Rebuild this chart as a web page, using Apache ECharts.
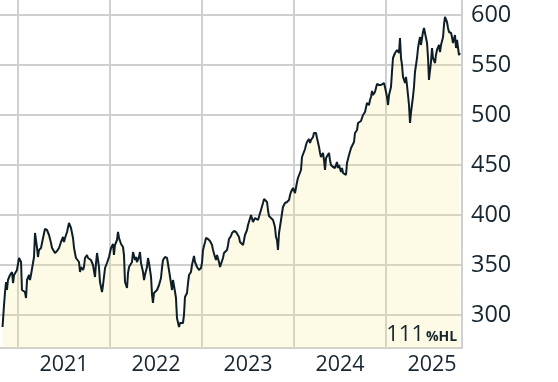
<!DOCTYPE html>
<html><head><meta charset="utf-8">
<script src="https://cdn.jsdelivr.net/npm/echarts@6/dist/echarts.min.js"></script>
<style>html,body{margin:0;padding:0;background:#fff}#c{width:558px;height:382px}</style>
</head><body><div id="c"></div>
<script>
// decimal-year dates of each reading
const dates = [
 2020.832,2020.848,2020.859,2020.870,2020.880,2020.891,2020.913,2020.935,2020.946,2020.957,2020.978,2020.989,
 2021.011,2021.033,2021.043,2021.054,2021.076,2021.087,2021.098,2021.120,2021.130,2021.141,
 2021.163,2021.174,2021.185,2021.207,2021.217,2021.228,2021.250,2021.272,2021.293,2021.315,
 2021.337,2021.359,2021.370,2021.380,2021.402,2021.424,2021.446,2021.467,2021.489,2021.500,
 2021.511,2021.533,2021.554,2021.565,2021.576,2021.598,2021.609,2021.630,2021.641,2021.663,
 2021.674,2021.685,2021.707,2021.717,2021.728,2021.750,2021.761,2021.772,2021.793,2021.815,
 2021.837,2021.848,2021.859,2021.880,2021.891,2021.913,2021.924,2021.946,2021.967,2021.989,
 2022.011,2022.033,2022.043,2022.054,2022.076,2022.087,2022.098,2022.120,2022.141,2022.152,
 2022.163,2022.185,2022.196,2022.207,2022.228,2022.239,2022.250,2022.272,2022.283,2022.293,
 2022.315,2022.326,2022.337,2022.359,2022.370,2022.380,2022.402,2022.413,2022.424,2022.446,
 2022.457,2022.467,2022.478,2022.489,2022.511,2022.522,2022.533,2022.554,2022.565,2022.576,
 2022.598,2022.620,2022.630,2022.641,2022.663,2022.674,2022.685,2022.707,2022.717,2022.728,
 2022.750,2022.761,2022.772,2022.793,2022.804,2022.815,2022.837,2022.848,2022.859,2022.880,
 2022.891,2022.913,2022.924,2022.946,2022.967,2022.989,
 2023.000,2023.011,2023.033,2023.043,2023.065,2023.087,2023.109,2023.120,2023.141,2023.152,
 2023.163,2023.185,2023.196,2023.207,2023.228,2023.239,2023.250,2023.272,2023.283,2023.293,
 2023.315,2023.326,2023.348,2023.370,2023.380,2023.402,2023.413,2023.424,2023.446,2023.457,
 2023.467,2023.489,2023.500,2023.511,2023.533,2023.543,2023.554,2023.576,2023.587,2023.609,
 2023.630,2023.641,2023.663,2023.674,2023.685,2023.707,2023.717,2023.728,2023.750,2023.761,
 2023.772,2023.793,2023.804,2023.815,2023.826,2023.837,2023.859,2023.870,2023.880,2023.902,
 2023.924,2023.946,2023.957,2023.967,2023.989,
 2024.000,2024.011,2024.033,2024.043,2024.054,2024.076,2024.087,2024.098,2024.120,2024.130,
 2024.141,2024.163,2024.174,2024.185,2024.207,2024.217,2024.239,2024.250,2024.272,2024.283,
 2024.293,2024.315,2024.326,2024.337,2024.348,2024.359,2024.380,2024.391,2024.402,2024.424,
 2024.435,2024.446,2024.467,2024.478,2024.489,2024.511,2024.522,2024.533,2024.554,2024.565,
 2024.576,2024.598,2024.609,2024.620,2024.641,2024.652,2024.663,2024.685,2024.696,2024.707,
 2024.728,2024.739,2024.750,2024.772,2024.783,2024.793,2024.815,2024.826,2024.837,2024.848,
 2024.859,2024.880,2024.891,2024.902,2024.924,2024.935,2024.946,2024.967,2024.978,2024.989,
 2025.011,2025.022,2025.033,2025.054,2025.065,2025.076,2025.098,2025.109,2025.120,2025.141,
 2025.152,2025.163,2025.174,2025.185,2025.207,2025.217,2025.228,2025.250,2025.261,2025.272,
 2025.293,2025.304,2025.315,2025.337,2025.348,2025.359,2025.370,2025.380,2025.402,2025.413,
 2025.424,2025.446,2025.457,2025.467,2025.489,2025.500,2025.511,2025.533,2025.543,2025.554,
 2025.576,2025.587,2025.598,2025.620,2025.630,2025.641,2025.663,2025.674,2025.685,2025.707,
 2025.717,2025.728,2025.750,2025.761,2025.772,2025.793,2025.804
];
const prices = [
 288,310,323,333,325,335,340,343,332,340,338,345,
 357,353,325,327,323,317,335,340,335,340,
 352,358,382,367,358,365,367,377,386,385,
 380,372,367,367,362,364,367,373,378,373,
 377,383,392,393,387,377,367,357,355,353,
 343,348,345,348,357,360,357,358,355,350,
 338,352,362,348,333,323,330,347,352,358,
 367,371,360,370,375,383,377,371,368,360,
 333,327,342,348,350,353,363,355,358,353,
 358,363,352,343,335,340,348,357,352,338,
 320,312,322,320,325,327,330,337,347,355,
 358,357,355,345,332,325,335,323,317,297,
 288,292,293,292,300,318,322,332,340,343,
 350,359,353,348,345,347,
 352,365,373,377,376,374,370,365,358,355,
 360,353,348,350,357,362,363,365,370,376,
 379,382,384,383,385,378,373,372,370,375,
 380,385,390,390,400,402,393,397,395,395,
 397,405,412,416,415,413,405,399,397,398,
 395,388,378,375,365,382,395,402,408,412,
 413,415,420,423,427,
 425,422,433,437,438,445,458,460,466,470,
 473,476,472,475,478,482,482,477,468,462,
 458,462,455,445,457,458,462,455,450,448,
 449,447,453,447,450,443,447,442,443,440,
 452,460,458,467,468,473,482,485,492,493,
 494,496,500,503,505,512,510,515,518,524,
 520,523,525,531,530,528,530,528,532,528,
 518,510,520,528,543,557,562,563,565,562,
 577,557,550,538,532,538,530,510,492,503,
 518,528,543,557,567,573,578,570,583,587,
 588,572,557,535,553,567,557,552,560,565,
 570,563,570,578,590,598,593,587,583,582,
 578,572,580,567,575,560,562
];
const xRange = [2020.8043, 2025.826];
const yRange = [267, 615];
const noteValue = '111';
const noteUnit = '%HL';

const FONT = '"Open Sans", "Noto Sans", sans-serif';
const TXT = '#16252f';
const GRID = '#cfcfcf';

const chart = echarts.init(document.getElementById('c'), null, {renderer: 'canvas'});
chart.setOption({
  animation: false,
  grid: {left: 0, right: 96, top: 0, bottom: 34, containLabel: false},
  xAxis: [{
    type: 'value', min: xRange[0], max: xRange[1], splitNumber: 5,
    axisLine: {show: true, lineStyle: {color: GRID, width: 2}},
    axisTick: {show: false},
    axisLabel: {show: false},
    splitLine: {show: true, showMinLine: false, showMaxLine: false, lineStyle: {color: GRID, width: 2}}
  }, {
    type: 'value', min: xRange[0] - 0.5, max: xRange[1] - 0.5, splitNumber: 5, position: 'bottom',
    axisLine: {show: false}, axisTick: {show: false}, splitLine: {show: false},
    axisLabel: {show: true, showMinLabel: false, showMaxLabel: false, color: TXT, fontFamily: FONT, fontSize: 21.5, margin: 6,
      formatter: v => String(Math.round(v))}
  }],
  yAxis: {
    type: 'value', position: 'right', min: yRange[0], max: yRange[1], splitNumber: 7,
    axisLine: {show: true, lineStyle: {color: GRID, width: 2}},
    axisTick: {show: false},
    axisLabel: {show: true, showMinLabel: false, showMaxLabel: false, color: TXT, fontFamily: FONT, fontSize: 23.5, margin: 9},
    splitLine: {show: true, showMinLine: false, showMaxLine: false, lineStyle: {color: GRID, width: 2}}
  },
  series: [{
    type: 'line', xAxisIndex: 0, yAxisIndex: 0,
    data: dates.map((d, i) => [d, prices[i]]),
    showSymbol: false, symbol: 'none',
    lineStyle: {color: '#0e1e28', width: 2},
    areaStyle: {color: 'rgba(248,236,140,0.32)', origin: 'start'},
    z: 3
  }],
  graphic: [{
    type: 'text', z: 10,
    style: {x: 424, y: 335, text: noteValue, align: 'right', verticalAlign: 'middle', fill: TXT, font: '22px ' + FONT}
  }, {
    type: 'text', z: 10,
    style: {x: 426, y: 337.5, text: noteUnit, align: 'left', verticalAlign: 'middle', fill: TXT, font: 'bold 14px ' + FONT}
  }]
});
</script></body></html>
